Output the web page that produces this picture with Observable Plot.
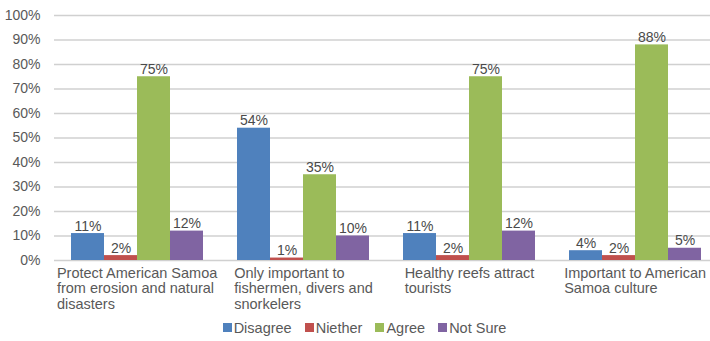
<!DOCTYPE html>
<html>
<head>
<meta charset="utf-8">
<script src="https://cdn.jsdelivr.net/npm/d3@7"></script>
<script src="https://cdn.jsdelivr.net/npm/@observablehq/plot@0.6"></script>
<style>
  html, body { margin: 0; padding: 0; background: #fff; }
  #chart { width: 710px; height: 341px; overflow: hidden; font-family: "Liberation Sans", Arial, sans-serif; }
  #chart svg { display: block; overflow: visible; }
  #legend { height: 27px; display: flex; justify-content: center; align-items: center; padding-left: 32px; box-sizing: border-box; }
  .lg-swatches { margin: 0 !important; min-height: 0 !important; justify-content: center; font-size: 14.5px !important; color: #595959 !important; }
  .lg-swatch { margin-right: 13px !important; font-size: 14.5px !important; }
  .lg-swatch svg { margin-right: 2px !important; }
</style>
</head>
<body>
<div id="chart"></div>
<script>
const categories = [
  "Protect American Samoa\nfrom erosion and natural\ndisasters",
  "Only important to\nfishermen, divers and\nsnorkelers",
  "Healthy reefs attract\ntourists",
  "Important to American\nSamoa culture"
];
const series = ["Disagree", "Niether", "Agree", "Not Sure"];
const disagree = [11, 54, 11, 4];
const niether = [2, 1, 2, 2];
const agree = [75, 35, 75, 88];
const notSure = [12, 10, 12, 5];
const colors = ["#4f81bd", "#c0504d", "#9bbb59", "#8064a2"];
const yTicks = [0, 10, 20, 30, 40, 50, 60, 70, 80, 90, 100];

const valuesBySeries = [disagree, niether, agree, notSure];
const rows = [];
categories.forEach((cat, i) => {
  series.forEach((s, j) => rows.push({cat, series: s, value: valuesBySeries[j][i]}));
});

const FONT = '"Liberation Sans", Arial, sans-serif';
const CAT_SIZE = 14.5;
const ctx = document.createElement("canvas").getContext("2d");
ctx.font = `${CAT_SIZE}px ${FONT}`;
const blockWidths = categories.map(c => d3.max(c.split("\n"), l => ctx.measureText(l).width));

const chart = Plot.plot({
  width: 710,
  height: 314,
  marginTop: 15,
  marginBottom: 54,
  marginLeft: 52,
  marginRight: -9,
  style: {fontFamily: FONT, fontSize: "14px", color: "#595959", background: "transparent"},
  fx: {domain: categories, padding: 0, axis: null},
  x: {domain: series, paddingInner: 0, paddingOuter: 0.5, axis: null},
  y: {domain: [0, 100], axis: null},
  color: {domain: series, range: colors},
  marks: [
    Plot.gridY(yTicks, {stroke: "#d0d0d0", strokeOpacity: 1, strokeWidth: 1.5}),
    Plot.axisY(yTicks, {label: null, tickSize: 0, tickPadding: 14, tickFormat: d => d + "%", fontSize: 14, fill: "#595959"}),
    Plot.barY(rows, {fx: "cat", x: "series", y: "value", fill: "series"}),
    Plot.text(rows, {fx: "cat", x: "series", y: "value", text: d => d.value + "%", dy: -3, lineAnchor: "bottom", fontSize: 14, fill: "#4a4a4a"}),
    ...categories.map((c, i) => Plot.text([c], {
      fx: d => d, text: d => d, frameAnchor: "bottom", textAnchor: "start", lineAnchor: "top",
      dx: -blockWidths[i] / 2, dy: 6, lineHeight: 1.07, fontSize: CAT_SIZE, fill: "#595959"
    }))
  ]
});

const el = document.getElementById("chart");
el.appendChild(chart);

const legendWrap = document.createElement("div");
legendWrap.id = "legend";
legendWrap.appendChild(Plot.legend({
  color: {domain: series, range: colors},
  swatchSize: 9,
  className: "lg",
  style: {fontFamily: FONT, fontSize: "14.5px", color: "#595959"}
}));
el.appendChild(legendWrap);
</script>
</body>
</html>
